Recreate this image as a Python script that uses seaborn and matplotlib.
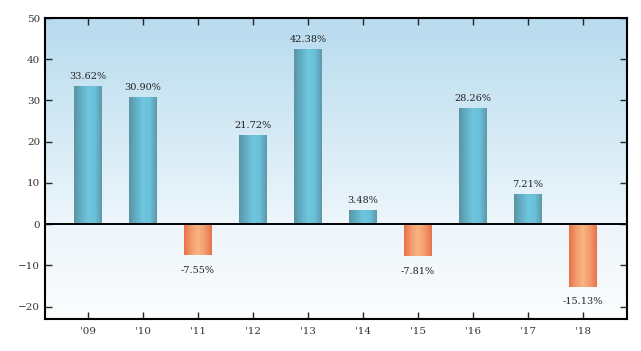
import numpy as np
import pandas as pd
import matplotlib
matplotlib.use("Agg")
import matplotlib.pyplot as plt
from matplotlib.colors import LinearSegmentedColormap
import seaborn as sns

# Data
years = ["'09", "'10", "'11", "'12", "'13", "'14", "'15", "'16", "'17", "'18"]
returns = [33.62, 30.90, -7.55, 21.72, 42.38, 3.48, -7.81, 28.26, 7.21, -15.13]

df = pd.DataFrame({"year": years, "ret": returns})
df["sign"] = np.where(df["ret"] >= 0, "pos", "neg")

sns.set_style("white")
plt.rcParams["font.family"] = ["DejaVu Serif"]

fig = plt.figure(figsize=(6.41, 3.51), dpi=100)
ax = fig.add_axes([45 / 641, 1 - 319 / 351, (627 - 45) / 641, (319 - 18) / 351])

ymin, ymax = -23, 50
ax.set_xlim(-0.78, 9.8)
ax.set_ylim(ymin, ymax)

# background gradients
bg_top = LinearSegmentedColormap.from_list("bgtop", ["#edf6fb", "#b7dbee"])
bg_bot = LinearSegmentedColormap.from_list("bgbot", ["#fbfdfe", "#eef5fa"])
grad = np.linspace(0, 1, 256).reshape(-1, 1)
ax.imshow(grad, cmap=bg_top, aspect="auto", extent=(-0.78, 9.8, 0, ymax),
          origin="lower", zorder=0)
ax.imshow(grad, cmap=bg_bot, aspect="auto", extent=(-0.78, 9.8, ymin, 0),
          origin="lower", zorder=0)

sns.barplot(data=df, x="year", y="ret", hue="sign", dodge=False, width=0.5,
            palette={"pos": "#6cc4dd", "neg": "#f7a877"}, legend=False,
            ax=ax, zorder=2)

blue_cm = LinearSegmentedColormap.from_list(
    "bl", ["#5a93a3", "#62aec4", "#6ec6df", "#6ac0d9", "#5c97a8"])
orange_cm = LinearSegmentedColormap.from_list(
    "or", ["#e8714a", "#f29a6a", "#f8b482", "#f29a6c", "#e8724b"])
hgrad = np.linspace(0, 1, 256).reshape(1, -1)

# swap flat bar fills for a horizontal gradient clipped to each bar
for p in list(ax.patches):
    x0, y0 = p.get_x(), p.get_y()
    w, h = p.get_width(), p.get_height()
    if h == 0:
        continue
    lo, hi = min(y0, y0 + h), max(y0, y0 + h)
    cm = orange_cm if hi <= 0 else blue_cm
    im = ax.imshow(hgrad, cmap=cm, aspect="auto",
                   extent=(x0, x0 + w, lo, hi), zorder=3)
    im.set_clip_path(p)
    p.set_facecolor("none")
    p.set_edgecolor("none")

# reset limits after imshow
ax.set_xlim(-0.78, 9.8)
ax.set_ylim(ymin, ymax)

# value labels
for i, v in enumerate(returns):
    if v >= 0:
        ax.text(i, v + 1.2, f"{v:.2f}%", ha="center", va="bottom",
                fontsize=7, color="#222222", zorder=5)
    else:
        ax.text(i, v - 2.6, f"{v:.2f}%", ha="center", va="top",
                fontsize=7, color="#222222", zorder=5)

ax.axhline(0, color="black", linewidth=1.4, zorder=4)

ax.set_yticks([-20, -10, 0, 10, 20, 30, 40, 50])
ax.set_xlabel("")
ax.set_ylabel("")
ax.tick_params(axis="both", direction="in", length=5, width=1,
               labelsize=7.5, labelcolor="#333333",
               top=True, right=True, bottom=True, left=True)
ax.tick_params(axis="x", pad=6)
for s in ax.spines.values():
    s.set_linewidth(1.5)
    s.set_color("black")
    s.set_zorder(6)

fig.savefig("out.png", dpi=100)
